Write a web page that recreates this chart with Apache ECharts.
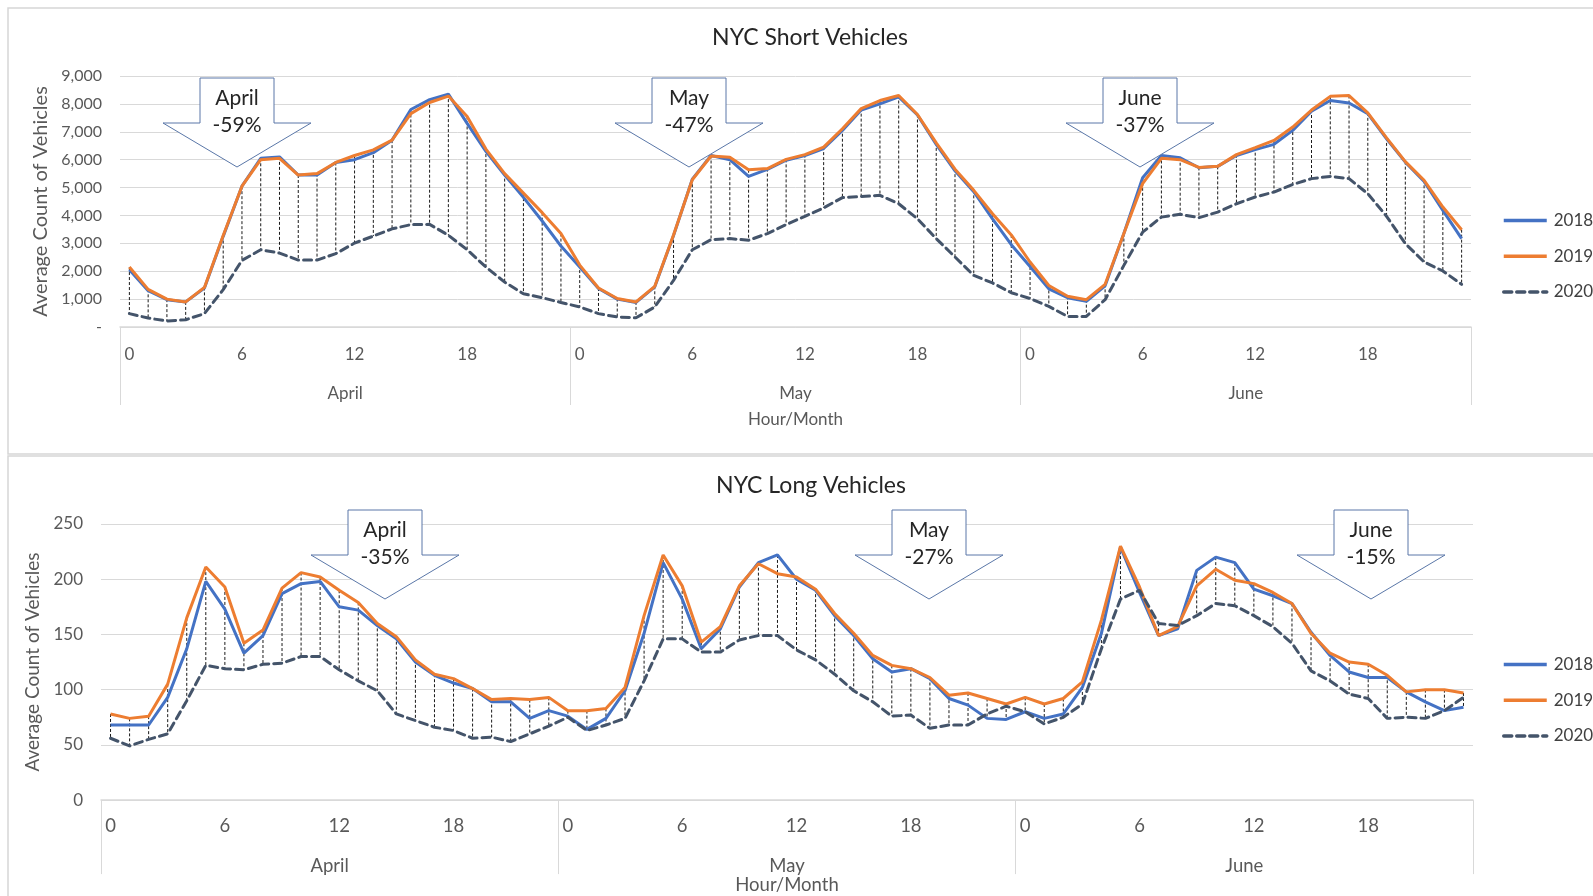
<!DOCTYPE html>
<html>
<head>
<meta charset="utf-8">
<title>NYC Vehicle Counts</title>
<script src="https://cdn.jsdelivr.net/npm/echarts@6/dist/echarts.min.js"></script>
<style>
  html, body { margin: 0; padding: 0; background: #fff; }
  #chart { width: 1593px; height: 896px; }
</style>
</head>
<body>
<div id="chart"></div>
<script>
// Tick labels
const hours = [0,1,2,3,4,5,6,7,8,9,10,11,12,13,14,15,16,17,18,19,20,21,22,23];
const months = ['April', 'May', 'June'];
const shortTicks = [0, 1000, 2000, 3000, 4000, 5000, 6000, 7000, 8000, 9000];
const longTicks = [0, 50, 100, 150, 200, 250];

// Average hourly count of short vehicles (April, May, June)
const short2018 = [
  2050,1300,980,900,1400,3250,5050,6050,6100,5450,5450,5900,6000,6250,6700,7800,8150,8350,7300,6300,5450,4650,3800,2900,
  2150,1380,1000,880,1440,3280,5300,6150,6000,5400,5650,5980,6150,6400,7050,7780,8000,8250,7600,6550,5600,4850,3880,2950,
  2170,1370,1050,920,1480,3350,5350,6150,6070,5710,5760,6150,6360,6550,7050,7740,8120,8030,7650,6750,5910,5220,4180,3170
];
const short2019 = [
  2150,1350,1000,900,1420,3280,5050,6000,6050,5450,5500,5900,6150,6350,6700,7650,8050,8280,7550,6380,5500,4800,4100,3350,
  2220,1400,1020,900,1460,3300,5280,6130,6090,5640,5680,6010,6180,6450,7110,7830,8120,8300,7620,6600,5660,4900,4060,3300,
  2330,1490,1100,980,1530,3350,5140,6050,6000,5720,5760,6180,6430,6690,7170,7780,8270,8300,7680,6780,5930,5260,4300,3490
];
const short2020 = [
  480,320,215,260,480,1340,2390,2770,2650,2400,2400,2630,3010,3260,3520,3670,3680,3290,2770,2150,1610,1190,1050,880,
  720,480,360,330,720,1670,2770,3130,3170,3110,3350,3670,3970,4270,4640,4680,4720,4420,3880,3170,2510,1850,1580,1230,
  1020,740,380,380,980,2210,3400,3940,4040,3920,4120,4420,4660,4840,5110,5320,5400,5320,4780,3970,2990,2330,2010,1530
];

// Average hourly count of long vehicles (April, May, June)
const long2018 = [
  68,68,68,93,137,198,173,133,149,187,196,198,175,172,158,146,125,113,106,101,89,89,74,81,
  76,64,74,99,151,215,182,137,155,193,215,222,200,190,167,149,128,116,119,110,92,86,74,73,
  80,74,78,102,151,229,188,149,155,208,220,215,191,185,178,152,131,116,111,111,98,89,81,84
];
const long2019 = [
  78,74,76,105,165,211,193,142,154,192,206,202,190,179,160,148,127,114,110,101,91,92,91,93,
  81,81,83,102,167,222,194,143,157,194,214,205,202,191,169,151,131,122,119,111,95,97,92,87,
  93,87,92,107,163,230,193,149,157,194,209,199,196,188,178,151,133,125,123,113,98,100,100,97
];
const long2020 = [
  56,49,55,60,90,122,119,118,123,124,130,130,118,108,99,78,72,66,63,56,57,53,60,67,
  75,63,68,74,108,146,146,134,134,145,149,149,136,127,114,99,89,76,77,65,68,68,78,85,
  80,69,75,87,137,182,190,160,158,167,178,176,167,157,142,117,108,96,92,74,75,74,81,93
];

// Year-over-year change callouts
const shortCallouts = [['April', '-59%'], ['May', '-47%'], ['June', '-37%']];
const longCallouts = [['April', '-35%'], ['May', '-27%'], ['June', '-15%']];

const years = ['2018', '2019', '2020'];

// ---------------------------------------------------------------------------
const FONT = 'Lato, "Open Sans", sans-serif';
const AXIS_GREY = '#d9d9d9';
const LABEL = '#595959';
const COLORS = { '2018': '#4472C4', '2019': '#ED7D31', '2020': '#44546A' };

const categories = [];
months.forEach(() => hours.forEach(h => categories.push(String(h))));

function fmtThousands(v) {
  if (v === 0) return '-';
  return v.toString().replace(/\B(?=(\d{3})+(?!\d))/g, ',');
}

function hiLowData(a, b, c) {
  return a.map((v, i) => [i, Math.max(v, b[i], c[i]), Math.min(v, b[i], c[i])]);
}

function panel(gi, s18, s19, s20) {
  const lineBase = (name, data, extra) => Object.assign({
    name, type: 'line', data,
    xAxisIndex: gi * 2, yAxisIndex: gi,
    symbol: 'none', smooth: false, z: 3,
    color: COLORS[name],
    lineStyle: { width: 3, color: COLORS[name] }
  }, extra || {});
  return [
    {
      type: 'custom', name: 'hilow', silent: true, z: 1,
      xAxisIndex: gi * 2, yAxisIndex: gi,
      data: hiLowData(s18, s19, s20),
      encode: { x: 0, y: [1, 2] },
      renderItem(params, api) {
        const p1 = api.coord([api.value(0), api.value(1)]);
        const p2 = api.coord([api.value(0), api.value(2)]);
        return {
          type: 'line',
          shape: { x1: p1[0], y1: p1[1], x2: p2[0], y2: p2[1] },
          style: { stroke: '#1a1a1a', lineWidth: 1, lineDash: [3, 2] }
        };
      }
    },
    lineBase('2018', s18),
    lineBase('2019', s19),
    lineBase('2020', s20, { z: 4, lineStyle: { width: 3, color: COLORS['2020'], type: [8, 5], cap: 'round' } })
  ];
}

function xAxes(gi, size, hourMargin, monthMargin, tickLen, nameGap) {
  return [
    {
      type: 'category', gridIndex: gi, position: 'bottom', data: categories,
      boundaryGap: true,
      axisLine: { show: true, lineStyle: { color: AXIS_GREY, width: 1.5 } },
      axisTick: { show: false },
      axisLabel: { interval: 5, color: LABEL, fontFamily: FONT, fontSize: size, margin: hourMargin },
      splitLine: { show: false }
    },
    {
      type: 'category', gridIndex: gi, position: 'bottom', data: months,
      boundaryGap: true,
      axisLine: { show: false },
      axisTick: { show: true, interval: 0, length: tickLen, lineStyle: { color: AXIS_GREY, width: 1 } },
      axisLabel: { interval: 0, color: LABEL, fontFamily: FONT, fontSize: size, margin: monthMargin },
      name: 'Hour/Month', nameLocation: 'middle', nameGap: nameGap,
      nameTextStyle: { color: LABEL, fontFamily: FONT, fontSize: size },
      splitLine: { show: false }
    }
  ];
}

function yAxis(gi, ticks, fmt, size, nameSize, nameGap) {
  return {
    type: 'value', gridIndex: gi,
    min: ticks[0], max: ticks[ticks.length - 1], interval: ticks[1] - ticks[0],
    axisLine: { show: false }, axisTick: { show: false },
    axisLabel: { color: LABEL, fontFamily: FONT, fontSize: size, margin: 18, formatter: fmt },
    splitLine: { lineStyle: { color: AXIS_GREY, width: 1 } },
    name: 'Average Count of Vehicles', nameLocation: 'middle', nameRotate: 90, nameGap: nameGap,
    nameTextStyle: { color: LABEL, fontFamily: FONT, fontSize: nameSize }
  };
}

function legend(top) {
  return {
    data: years, orient: 'vertical', left: 1497, top: top,
    itemWidth: 43, itemHeight: 20, itemGap: 18.7,
    itemStyle: { opacity: 0 },
    lineStyle: { width: 3.5 },
    textStyle: { color: '#404040', fontFamily: FONT, fontSize: 17, padding: [0, 0, 0, 2] },
    selectedMode: false
  };
}

// Down-arrow callout shape centred on cx, starting at y = top
function callout(cx, top, lines) {
  const bw = 37, ww = 74, sh = 45, tip = 89;
  return [
    {
      type: 'polygon', silent: true, z: 100,
      shape: { points: [
        [cx - bw, top], [cx + bw, top], [cx + bw, top + sh], [cx + ww, top + sh],
        [cx, top + tip], [cx - ww, top + sh], [cx - bw, top + sh]
      ] },
      style: { fill: '#fff', stroke: '#5a77a8', lineWidth: 1 }
    },
    {
      type: 'text', silent: true, z: 101, x: cx, y: top + 34,
      style: {
        text: lines[0] + '\n' + lines[1], fill: '#262626', font: '21px ' + FONT,
        align: 'center', verticalAlign: 'middle', lineHeight: 27
      }
    }
  ];
}

const chart = echarts.init(document.getElementById('chart'), null, { renderer: 'canvas' });

const graphics = [
  { type: 'rect', silent: true, z: -10, shape: { x: 8, y: 8, width: 1620, height: 446 },
    style: { fill: 'none', stroke: '#d6d6d6', lineWidth: 1.5 } },
  { type: 'rect', silent: true, z: -10, shape: { x: 8, y: 456, width: 1620, height: 500 },
    style: { fill: 'none', stroke: '#d6d6d6', lineWidth: 1.5 } },
  { type: 'text', silent: true, x: 810, y: 38,
    style: { text: 'NYC Short Vehicles', fill: '#262626', font: '23px ' + FONT, align: 'center', verticalAlign: 'middle' } },
  { type: 'text', silent: true, x: 811, y: 486,
    style: { text: 'NYC Long Vehicles', fill: '#262626', font: '23px ' + FONT, align: 'center', verticalAlign: 'middle' } }
];
[237, 689, 1140].forEach((cx, i) => graphics.push(...callout(cx, 78, shortCallouts[i])));
[385, 929, 1371].forEach((cx, i) => graphics.push(...callout(cx, 510, longCallouts[i])));

chart.setOption({
  animation: false,
  backgroundColor: '#fff',
  grid: [
    { left: 120, right: 122, top: 76, height: 251 },
    { left: 101, right: 120, top: 524, height: 277 }
  ],
  xAxis: [
    ...xAxes(0, 17, 19, 58, 78, 84),
    ...xAxes(1, 18.5, 16, 56, 74, 75)
  ],
  yAxis: [
    yAxis(0, shortTicks, fmtThousands, 16, 20, 67),
    yAxis(1, longTicks, v => String(v), 17, 19, 58)
  ],
  legend: [legend(207), legend(651)],
  series: [
    ...panel(0, short2018, short2019, short2020),
    ...panel(1, long2018, long2019, long2020)
  ],
  graphic: graphics
});
</script>
</body>
</html>
